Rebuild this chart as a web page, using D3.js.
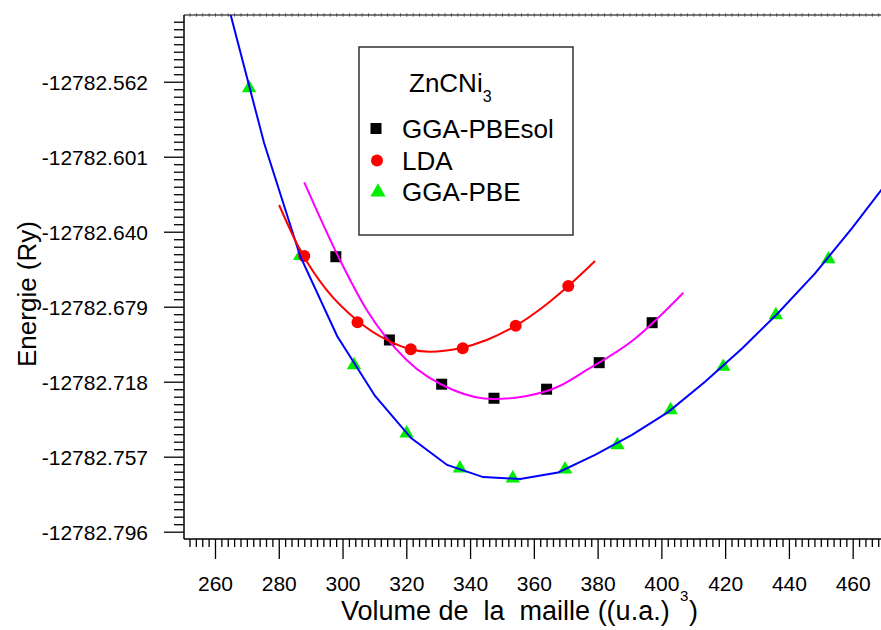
<!DOCTYPE html>
<html>
<head>
<meta charset="utf-8">
<script src="https://cdn.jsdelivr.net/npm/d3@7"></script>
<style>
  body { margin: 0; background: #fff; }
  svg { display: block; }
  text { font-family: "Liberation Sans", Arial, sans-serif; fill: #000; }
</style>
</head>
<body>
<svg id="chart" width="881" height="630"></svg>
<script>
// Total energy vs. cell volume for ZnCNi3 with three exchange-correlation functionals
const pbeVolume = [270.7, 286.7, 303.6, 320.1, 336.8, 353.4, 369.8, 386.2, 402.9, 419.4, 435.9, 452.4];
const pbeEnergy = [-12782.5653, -12782.6526, -12782.7093, -12782.7448, -12782.7630, -12782.7682,
                   -12782.7636, -12782.7509, -12782.7327, -12782.7102, -12782.6833, -12782.6543];

const pbesolVolume = [297.9, 314.7, 331.1, 347.5, 364.0, 380.5, 397.1];
const pbesolEnergy = [-12782.6530, -12782.6963, -12782.7193, -12782.7266, -12782.7219, -12782.7081, -12782.6873];

const ldaVolume = [288.0, 304.7, 321.4, 337.7, 354.3, 370.8];
const ldaEnergy = [-12782.6526, -12782.6871, -12782.7011, -12782.7006, -12782.6889, -12782.6682];

// Equation-of-state fits
const pbeFitVolume = [263.9, 275.4, 286.7, 298.3, 310.2, 321.5, 332.8, 344.1, 355.7, 367.6,
                      379.2, 390.8, 402.1, 413.7, 425.3, 436.6, 448.2, 459.8, 471.4];
const pbeFitEnergy = [-12782.5208, -12782.5939, -12782.6526, -12782.6942, -12782.7254, -12782.7473,
                      -12782.7613, -12782.7676, -12782.7686, -12782.7652, -12782.7561, -12782.7457,
                      -12782.7338, -12782.7180, -12782.7007, -12782.6823, -12782.6617, -12782.6381, -12782.6131];

const pbesolFitVolume = [288.0, 299.2, 307.6, 320.1, 334.7, 347.3, 357.8, 367.2, 376.6, 391.2, 406.9];
const pbesolFitEnergy = [-12782.6143, -12782.6547, -12782.6807, -12782.7067, -12782.7223, -12782.7270,
                         -12782.7254, -12782.7209, -12782.7119, -12782.6963, -12782.6717];

const ldaFitVolume = [280.1, 286.7, 295.0, 304.4, 313.9, 321.2, 327.4, 336.8, 345.2, 354.3, 363.0, 370.8, 379.2];
const ldaFitEnergy = [-12782.6261, -12782.6495, -12782.6703, -12782.6859, -12782.6963, -12782.7011,
                      -12782.7024, -12782.7006, -12782.6963, -12782.6889, -12782.6790, -12782.6682, -12782.6552];

const xTickValues = [260, 280, 300, 320, 340, 360, 380, 400, 420, 440, 460];
const yTickLabels = ["-12782.562", "-12782.601", "-12782.640", "-12782.679", "-12782.718", "-12782.757", "-12782.796"];

const seriesNames = ["GGA-PBEsol", "LDA", "GGA-PBE"];
const compound = "ZnCNi";
const compoundSub = "3";

const colors = { pbesol: "#000000", pbesolFit: "#ff00ff", lda: "#ff0000", ldaFit: "#ff0000", pbe: "#00ee00", pbeFit: "#0000ff" };

const svg = d3.select("#chart");
const plot = { left: 184, right: 881, top: 15, bottom: 539 };

const x = d3.scaleLinear().domain([250.28, 468.88]).range([plot.left, plot.right]);
const y = d3.scaleLinear().domain([-12782.7998, -12782.5273]).range([plot.bottom, plot.top]);

svg.append("defs").append("clipPath").attr("id", "plotClip")
  .append("rect").attr("x", plot.left).attr("y", plot.top)
  .attr("width", plot.right - plot.left).attr("height", plot.bottom - plot.top);

// ----- axes -----
const yMajor = yTickLabels.map(Number);
const yStep = 0.0039;
const yMinor = d3.range(-2, 70).map(i => yMajor[yMajor.length - 1] + i * yStep)
  .filter(v => v >= y.domain()[0] - 1e-6 && v <= y.domain()[1] && !yMajor.some(m => Math.abs(m - v) < 1e-6));

const xMinor = d3.range(252, 469, 2).filter(v => v % 20 !== 0);

function styleAxis(g) {
  g.select(".domain").remove();
  g.selectAll("line").attr("stroke", "#000").attr("stroke-width", 1.3);
}

svg.append("g").attr("transform", `translate(${plot.left},0)`)
  .call(d3.axisLeft(y).tickValues(yMinor).tickSize(10).tickFormat(""))
  .call(styleAxis);
svg.append("g").attr("transform", `translate(${plot.left},0)`)
  .call(d3.axisLeft(y).tickValues(yMajor).tickSize(20).tickPadding(16)
    .tickFormat((d, i) => yTickLabels[i]))
  .call(styleAxis)
  .call(g => g.selectAll("text").attr("font-size", 21).attr("dy", "0.36em")
    .style("font-family", '"Liberation Sans", Arial, sans-serif'));

svg.append("g").attr("transform", `translate(0,${plot.bottom})`)
  .call(d3.axisBottom(x).tickValues(xMinor).tickSize(8).tickFormat(""))
  .call(styleAxis);
svg.append("g").attr("transform", `translate(0,${plot.bottom})`)
  .call(d3.axisBottom(x).tickValues(xTickValues).tickSize(20).tickPadding(17))
  .call(styleAxis)
  .call(g => g.selectAll("text").attr("font-size", 21)
    .style("font-family", '"Liberation Sans", Arial, sans-serif'));

// top frame line with fine ticks
svg.append("g").attr("transform", `translate(0,${plot.top})`)
  .call(d3.axisTop(x).tickValues(d3.range(252, 469, 2)).tickSize(2).tickFormat(""))
  .call(g => g.select(".domain").remove())
  .call(g => g.selectAll("line").attr("stroke", "#888").attr("stroke-width", 1).attr("y2", 2).attr("y1", -2));

svg.append("line").attr("x1", plot.left).attr("x2", plot.right).attr("y1", plot.top).attr("y2", plot.top)
  .attr("stroke", "#000").attr("stroke-width", 1.2);
svg.append("line").attr("x1", plot.left).attr("x2", plot.left).attr("y1", plot.top).attr("y2", plot.bottom)
  .attr("stroke", "#000").attr("stroke-width", 1.5);
svg.append("line").attr("x1", plot.left).attr("x2", plot.right).attr("y1", plot.bottom).attr("y2", plot.bottom)
  .attr("stroke", "#000").attr("stroke-width", 1.5);

// ----- data -----
const area = svg.append("g").attr("clip-path", "url(#plotClip)");
const zip = (vs, es) => vs.map((v, i) => [v, es[i]]);

// markers
area.append("g").selectAll("path")
  .data(zip(pbeVolume, pbeEnergy)).join("path")
  .attr("d", d3.symbol(d3.symbolTriangle, 90))
  .attr("transform", d => `translate(${x(d[0])},${y(d[1])})`)
  .attr("fill", colors.pbe);

area.append("g").selectAll("rect")
  .data(zip(pbesolVolume, pbesolEnergy)).join("rect")
  .attr("x", d => x(d[0]) - 5.5).attr("y", d => y(d[1]) - 5.5)
  .attr("width", 11).attr("height", 11)
  .attr("fill", colors.pbesol);

area.append("g").selectAll("circle")
  .data(zip(ldaVolume, ldaEnergy)).join("circle")
  .attr("cx", d => x(d[0])).attr("cy", d => y(d[1])).attr("r", 6)
  .attr("fill", colors.lda);

// fitted curves
const linear = d3.line().x(d => x(d[0])).y(d => y(d[1]));
const smooth = d3.line().x(d => x(d[0])).y(d => y(d[1])).curve(d3.curveMonotoneX);

area.append("path").datum(zip(pbeFitVolume, pbeFitEnergy))
  .attr("d", linear).attr("fill", "none").attr("stroke", colors.pbeFit).attr("stroke-width", 2);
area.append("path").datum(zip(pbesolFitVolume, pbesolFitEnergy))
  .attr("d", smooth).attr("fill", "none").attr("stroke", colors.pbesolFit).attr("stroke-width", 2);
area.append("path").datum(zip(ldaFitVolume, ldaFitEnergy))
  .attr("d", smooth).attr("fill", "none").attr("stroke", colors.ldaFit).attr("stroke-width", 2);

// ----- legend -----
const lg = svg.append("g");
lg.append("rect").attr("x", 359).attr("y", 47).attr("width", 214).attr("height", 188)
  .attr("fill", "#fff").attr("stroke", "#333").attr("stroke-width", 1.5);

const title = lg.append("text").attr("x", 409).attr("y", 92).attr("font-size", 26);
title.append("tspan").text(compound);
title.append("tspan").attr("font-size", 16).attr("dy", 10).text(compoundSub);

const legendRows = [
  { name: seriesNames[0], cy: 128.5, kind: "square", color: colors.pbesol },
  { name: seriesNames[1], cy: 160.5, kind: "circle", color: colors.lda },
  { name: seriesNames[2], cy: 192, kind: "triangle", color: colors.pbe }
];
legendRows.forEach(r => {
  if (r.kind === "square") {
    lg.append("rect").attr("x", 376 - 5.5).attr("y", r.cy - 5.5).attr("width", 11).attr("height", 11).attr("fill", r.color);
  } else if (r.kind === "circle") {
    lg.append("circle").attr("cx", 377).attr("cy", r.cy).attr("r", 6).attr("fill", r.color);
  } else {
    lg.append("path").attr("d", d3.symbol(d3.symbolTriangle, 100)())
      .attr("transform", `translate(378,${r.cy})`).attr("fill", r.color);
  }
  lg.append("text").attr("x", 402).attr("y", r.cy + 9).attr("font-size", 26).text(r.name);
});

// ----- axis titles -----
const xTitle = svg.append("g");
const xt = xTitle.append("text").attr("x", 341).attr("y", 620).attr("font-size", 27).style("white-space", "pre")
  .text("Volume de  la  maille ((u.a.)");
const xtEnd = 341 + xt.node().getComputedTextLength();
const supX = Math.max(xtEnd + 1, 680);
xTitle.append("text").attr("x", supX).attr("y", 601).attr("font-size", 15).text("3");
xTitle.append("text").attr("x", supX + 9).attr("y", 620).attr("font-size", 27).text(")");

svg.append("text").attr("transform", "translate(36,294) rotate(-90)")
  .attr("text-anchor", "middle").attr("font-size", 26).text("Energie (Ry)");
</script>
</body>
</html>
